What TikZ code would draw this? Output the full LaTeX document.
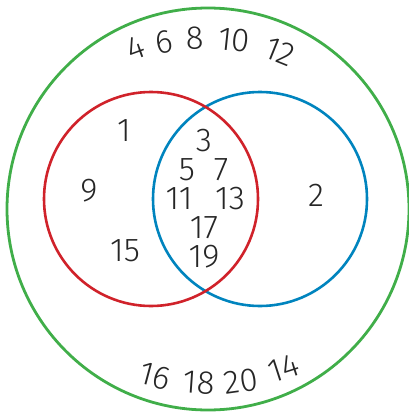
\documentclass[tikz,border=0pt]{standalone}
\usepackage{fontspec}
\setmainfont{Fira Sans Light}
\definecolor{vgreen}{RGB}{64,174,73}
\definecolor{vred}{RGB}{208,34,42}
\definecolor{vblue}{RGB}{0,132,190}
\begin{document}
\begin{tikzpicture}[x=1pt,y=-1pt,
  num/.style={font=\fontsize{33}{33}\selectfont, text=black!85, inner sep=0pt},
  ring/.style={line width=2.6pt}]
\useasboundingbox (0,0) rectangle (409,412);
\draw[ring, vgreen, line width=2.8pt] (208,209) circle (201);
\draw[ring, vblue] (260,199) circle (107);
\draw[ring, vred] (151,199) circle (107);
% top arc
\node[num, rotate=20] (n4) at (136,48) {4};
\node[num, rotate=10] (n6) at (164,42) {6};
\node[num, rotate=2] (n8) at (195,38) {8};
\node[num, rotate=-6] (n10) at (234,40) {10};
\node[num, rotate=-22] (n12) at (280,52) {12};
% bottom arc
\node[num, rotate=-15] (n16) at (155,376) {16};
\node[num, rotate=-4] (n18) at (199,383) {18};
\node[num, rotate=8] (n20) at (241,381) {20};
\node[num, rotate=18] (n14) at (284,368) {14};
% A only
\node[num] (n1) at (124,131) {1};
\node[num] (n9) at (89,191) {9};
\node[num] (n15) at (125,251) {15};
% intersection
\node[num] (n3) at (204,141) {3};
\node[num] (n5) at (187,170) {5};
\node[num] (n7) at (221,170) {7};
\node[num] (n11) at (179,199) {11};
\node[num] (n13) at (230,199) {13};
\node[num] (n17) at (204,228) {17};
\node[num] (n19) at (204,257) {19};
% B only
\node[num] (n2) at (316,195) {2};
\end{tikzpicture}
\end{document}
